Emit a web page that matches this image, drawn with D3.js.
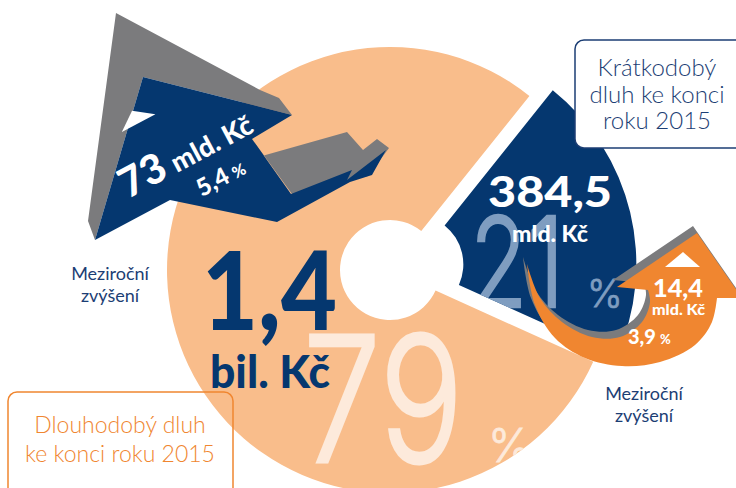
<!DOCTYPE html>
<html>
<head>
<meta charset="utf-8">
<script src="https://cdn.jsdelivr.net/npm/d3@7"></script>
<style>
  body { margin: 0; background: #fff; }
  svg { display: block; }
</style>
</head>
<body>
<svg id="chart"></svg>
<script>
// data
const segments = ['Dlouhodobý dluh', 'Krátkodobý dluh']
const shares = [79, 21]
const amounts = ['1,4', '384,5']
const units = ['bil. Kč', 'mld. Kč']
const growthAmounts = ['73', '14,4']
const growthUnits = ['mld. Kč', 'mld. Kč']
const growthShares = ['5,4', '3,9']
const boxLabels = [['Dlouhodobý dluh', 'ke konci roku 2015'], ['Krátkodobý', 'dluh ke konci', 'roku 2015']]
const growthLabel = ['Meziroční', 'zvýšení']

const width = 736
const height = 488
const navy = '#05376f'
const navyText = '#1c3e74'
const peach = '#f9bd8b'
const orange = '#f08630'
const grey = '#7b7b7d'

const svg = d3.select('#chart')
  .attr('width', width)
  .attr('height', height)

const defs = svg.append('defs')

// donut
const cx = 390
const cy = 270
const outerR = 223
const innerR = 50
const startA = 114.3 * Math.PI / 180
const explode = [0, 24]
const fills = [peach, navy]

const pie = d3.pie().sort(null)
  .startAngle(startA)
  .endAngle(startA + 2 * Math.PI)
const arc = d3.arc().innerRadius(innerR).outerRadius(outerR)
const arcs = pie(shares)

const offset = (d, i) => {
  const mid = (d.startAngle + d.endAngle) / 2
  return [cx + Math.sin(mid) * explode[i], cy - Math.cos(mid) * explode[i]]
}

arcs.forEach((d, i) => {
  const [ox, oy] = offset(d, i)
  defs.append('clipPath').attr('id', 'clip-' + i)
    .append('path')
    .attr('transform', `translate(${ox},${oy})`)
    .attr('d', arc(d))
})

svg.append('g').selectAll('path')
  .data(arcs)
  .enter().append('path')
  .attr('transform', (d, i) => `translate(${offset(d, i)})`)
  .attr('d', arc)
  .attr('fill', (d, i) => fills[i])

// box for short-term debt (white, over the navy slice)
const boxR = svg.append('g')
boxR.append('rect')
  .attr('x', 575).attr('y', 40).attr('width', 200).attr('height', 108)
  .attr('rx', 9)
  .attr('fill', '#fff')
  .attr('stroke', navyText)
  .attr('stroke-width', 1.5)
boxR.append('text')
  .attr('text-anchor', 'middle')
  .attr('font-family', 'Lato, sans-serif')
  .attr('font-weight', 300)
  .attr('font-size', 24)
  .attr('fill', navyText)
  .selectAll('tspan')
  .data(boxLabels[1])
  .enter().append('tspan')
  .attr('x', 657)
  .attr('y', (d, i) => 76 + i * 26.5)
  .text(d => d)

// box for long-term debt
const boxL = svg.append('g')
boxL.append('rect')
  .attr('x', 8).attr('y', 392).attr('width', 225).attr('height', 130)
  .attr('rx', 9)
  .attr('fill', 'none')
  .attr('stroke', orange)
  .attr('stroke-width', 1.5)
boxL.append('text')
  .attr('text-anchor', 'middle')
  .attr('font-family', 'Lato, sans-serif')
  .attr('font-weight', 300)
  .attr('font-size', 23)
  .attr('fill', orange)
  .selectAll('tspan')
  .data(boxLabels[0])
  .enter().append('tspan')
  .attr('x', 120)
  .attr('y', (d, i) => 433 + i * 29)
  .text(d => d)

// big share numbers (light)
const shareText = [
  { x: 303, y: 462, size: 175, len: 160, px: 488, psize: 46, sw: 3, color: '#fdeadb' },
  { x: 470, y: 307, size: 125, len: 94, px: 587, psize: 38, sw: 2.5, color: '#7f9dc0' }
]
shareText.forEach((s, i) => {
  const t = svg.append('g').attr('clip-path', `url(#clip-${i})`)
  t.append('text')
    .attr('x', s.x).attr('y', s.y)
    .attr('font-family', 'Inter, Lato, sans-serif')
    .attr('font-weight', 300)
    .attr('font-size', s.size)
    .attr('textLength', s.len)
    .attr('lengthAdjust', 'spacingAndGlyphs')
    .attr('fill', s.color)
    .attr('stroke', s.color)
    .attr('stroke-width', s.sw)
    .text(shares[i])
  t.append('text')
    .attr('x', s.px).attr('y', s.y)
    .attr('font-family', 'Inter, Lato, sans-serif')
    .attr('font-weight', 300)
    .attr('font-size', s.psize)
    .attr('fill', s.color)
    .attr('stroke', s.color)
    .attr('stroke-width', 0.8)
    .text('%')
})

// amounts
svg.append('text')
  .attr('x', 202).attr('y', 330)
  .attr('font-family', 'Lato, sans-serif')
  .attr('font-weight', 900)
  .attr('font-size', 108)
  .attr('textLength', 135)
  .attr('lengthAdjust', 'spacingAndGlyphs')
  .attr('fill', navy)
  .text(amounts[0])
svg.append('text')
  .attr('x', 210).attr('y', 388)
  .attr('font-family', 'Lato, sans-serif')
  .attr('font-weight', 900)
  .attr('font-size', 45)
  .attr('textLength', 120)
  .attr('lengthAdjust', 'spacingAndGlyphs')
  .attr('fill', navy)
  .text(units[0])
svg.append('text')
  .attr('x', 488).attr('y', 207)
  .attr('font-family', 'Lato, sans-serif')
  .attr('font-weight', 900)
  .attr('font-size', 42)
  .attr('textLength', 124)
  .attr('lengthAdjust', 'spacingAndGlyphs')
  .attr('fill', '#fff')
  .text(amounts[1])
svg.append('text')
  .attr('x', 512).attr('y', 242)
  .attr('font-family', 'Lato, sans-serif')
  .attr('font-weight', 900)
  .attr('font-size', 22)
  .attr('textLength', 76)
  .attr('lengthAdjust', 'spacingAndGlyphs')
  .attr('fill', '#fff')
  .text(units[1])

// upper-left growth arrow (3D zigzag)
const poly = d3.line()
const greyHead = [[116, 13], [260, 90], [279, 98], [292, 115], [143, 77], [95, 240], [88, 221]]
const greyShaft = [[252, 139], [262, 156], [347, 132], [363, 150], [377, 139], [389, 148], [368, 176], [292, 194]]
const navyArrow = [[143, 77], [292, 115], [252, 139], [291, 194], [352, 170], [347, 180], [386, 150],
  [372, 175], [350, 182], [277, 222], [170, 200], [95, 240]]
svg.append('path').attr('d', poly(greyHead) + 'Z').attr('fill', grey)
svg.append('path').attr('d', poly(greyShaft) + 'Z').attr('fill', grey)
svg.append('path').attr('d', poly(navyArrow) + 'Z').attr('fill', navy)

const ga = svg.append('g').attr('transform', 'translate(128,199) rotate(-28)')
ga.append('path')
  .attr('d', poly([[26, -62], [64, -62], [45, -76]]) + 'Z')
  .attr('fill', '#fff')
ga.append('text')
  .attr('font-family', 'Lato, sans-serif')
  .attr('font-weight', 900)
  .attr('fill', '#fff')
  .call(t => {
    t.append('tspan').attr('font-size', 41).text(growthAmounts[0])
    t.append('tspan').attr('font-size', 27).attr('dx', 8).text(growthUnits[0])
  })
ga.append('text')
  .attr('x', 66).attr('y', 33)
  .attr('font-family', 'Lato, sans-serif')
  .attr('font-weight', 900)
  .attr('fill', '#fff')
  .call(t => {
    t.append('tspan').attr('font-size', 24).text(growthShares[0])
    t.append('tspan').attr('font-size', 16).attr('dx', 5).text('%')
  })

// right growth arrow (curved)
const curve = d3.line().curve(d3.curveCatmullRom)
const outer = [[717, 298], [712, 322], [695, 345], [660, 362], [622, 366], [585, 358], [555, 338], [535, 305], [527, 264]]
const inner = [[527, 264], [540, 298], [562, 322], [592, 337], [620, 337], [642, 322], [650, 302], [648, 290]]
const head = [[617, 287], [697, 233], [742, 298]]
const arrowPath = curve(outer) + curve(inner).replace(/^M/, 'L') +
  head.map(p => 'L' + p.join(',')).join('') + 'Z'
svg.append('path').attr('d', arrowPath)
  .attr('transform', 'translate(-4,-7)')
  .attr('fill', grey)
svg.append('path').attr('d', arrowPath).attr('fill', orange)

svg.append('path')
  .attr('d', poly([[665, 267], [700, 267], [683, 252]]) + 'Z')
  .attr('fill', '#fff')
svg.append('text')
  .attr('x', 653).attr('y', 297)
  .attr('font-family', 'Lato, sans-serif')
  .attr('font-weight', 900)
  .attr('font-size', 24)
  .attr('textLength', 50)
  .attr('lengthAdjust', 'spacingAndGlyphs')
  .attr('fill', '#fff')
  .text(growthAmounts[1])
svg.append('text')
  .attr('x', 652).attr('y', 315)
  .attr('font-family', 'Lato, sans-serif')
  .attr('font-weight', 900)
  .attr('font-size', 15)
  .attr('textLength', 53)
  .attr('lengthAdjust', 'spacingAndGlyphs')
  .attr('fill', '#fff')
  .text(growthUnits[1])
svg.append('text')
  .attr('x', 628).attr('y', 344)
  .attr('font-family', 'Lato, sans-serif')
  .attr('font-weight', 900)
  .attr('fill', '#fff')
  .call(t => {
    t.append('tspan').attr('font-size', 20).text(growthShares[1])
    t.append('tspan').attr('font-size', 13).attr('dx', 4).text('%')
  })

// growth labels
const labelPos = [[110, 280], [644, 400]]
labelPos.forEach(([x, y]) => {
  svg.append('text')
    .attr('text-anchor', 'middle')
    .attr('font-family', 'Lato, sans-serif')
    .attr('font-weight', 400)
    .attr('font-size', 18)
    .attr('fill', navyText)
    .selectAll('tspan')
    .data(growthLabel)
    .enter().append('tspan')
    .attr('x', x)
    .attr('y', (d, i) => y + i * 22)
    .text(d => d)
})
</script>
</body>
</html>
